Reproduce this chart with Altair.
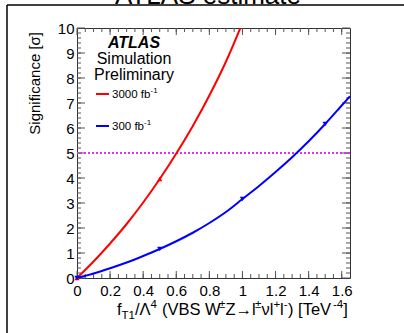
import altair as alt
import pandas as pd

# ---- data ----
red_x = [0.0, 0.1, 0.2, 0.3, 0.4, 0.5, 0.6, 0.7, 0.8, 0.9, 1.0]
red_y = [0.0, 0.66, 1.38, 2.16, 3.02, 3.96, 4.98, 6.08, 7.30, 8.65, 10.2]
blue_x = [0.0, 0.1, 0.2, 0.3, 0.4, 0.5, 0.6, 0.7, 0.8, 0.9, 1.0, 1.1, 1.2, 1.3, 1.4, 1.5, 1.6, 1.65]
blue_y = [0.0, 0.18, 0.39, 0.62, 0.88, 1.16, 1.47, 1.81, 2.20, 2.64, 3.16, 3.68, 4.24, 4.83, 5.47, 6.16, 6.90, 7.27]
red_pts_x = [0.0, 0.5]
red_pts_y = [0.0, 3.96]
blue_pts_x = [0.0, 0.5, 1.0, 1.5]
blue_pts_y = [0.0, 1.16, 3.16, 6.16]
threshold = [5]
x_major = [0, 0.2, 0.4, 0.6, 0.8, 1.0, 1.2, 1.4, 1.6]
y_major = [0, 1, 2, 3, 4, 5, 6, 7, 8, 9, 10]
x_minor = [round(0.05 * i, 2) for i in range(1, 33)]
y_minor = [round(0.2 * i, 1) for i in range(1, 50)]

FONT = "Liberation Sans"
W, H = 273, 250

xscale = alt.Scale(domain=[0, 1.65], nice=False, zero=False)
yscale = alt.Scale(domain=[0, 10], nice=False, zero=False)
xaxis = alt.Axis(values=x_major, format=".2~f", ticks=False, tickSize=0, domain=False, grid=False,
                 labelFontSize=15, labelFont=FONT, labelColor="black", labelPadding=5,
                 labelFlush=False, labelOverlap=False, title=None)
yaxis = alt.Axis(values=y_major, format="d", ticks=False, tickSize=0, domain=False, grid=False,
                 labelFontSize=15, labelFont=FONT, labelColor="black", labelPadding=3,
                 labelFlush=False, labelOverlap=False, title=None)
X = alt.X("x:Q", scale=xscale, axis=xaxis)
Y = alt.Y("y:Q", scale=yscale, axis=yaxis)

one = pd.DataFrame({"a": [1]})

layers = []

# ticks (inside, mirrored on all four sides)
TICK = "#555"
dxM = pd.DataFrame({"x": x_major})
dxm = pd.DataFrame({"x": x_minor})
dyM = pd.DataFrame({"y": y_major})
dym = pd.DataFrame({"y": y_minor})
for df, ln in [(dxM, 7), (dxm, 4)]:
    layers.append(alt.Chart(df).mark_rule(color=TICK, strokeWidth=1).encode(x=X, y=alt.value(H), y2=alt.value(H - ln)))
    layers.append(alt.Chart(df).mark_rule(color=TICK, strokeWidth=1).encode(x=X, y=alt.value(0), y2=alt.value(ln)))
for df, ln in [(dyM, 8), (dym, 4)]:
    layers.append(alt.Chart(df).mark_rule(color=TICK, strokeWidth=1).encode(y=Y, x=alt.value(0), x2=alt.value(ln)))
    layers.append(alt.Chart(df).mark_rule(color=TICK, strokeWidth=1).encode(y=Y, x=alt.value(W), x2=alt.value(W - ln)))

# 5 sigma line
layers.append(alt.Chart(pd.DataFrame({"y": threshold})).mark_rule(
    color="#e030f0", strokeWidth=2, strokeDash=[2, 2]).encode(y=Y))

# curves
layers.append(alt.Chart(pd.DataFrame({"x": red_x, "y": red_y})).mark_line(
    color="#ff0000", strokeWidth=2, interpolate="monotone", clip=True).encode(x=X, y=Y))
layers.append(alt.Chart(pd.DataFrame({"x": blue_x, "y": blue_y})).mark_line(
    color="#0000ff", strokeWidth=2, interpolate="monotone", clip=True).encode(x=X, y=Y))
layers.append(alt.Chart(pd.DataFrame({"x": red_pts_x, "y": red_pts_y})).mark_point(
    shape="triangle-up", filled=True, size=28, color="#ff0000", opacity=1).encode(x=X, y=Y))
layers.append(alt.Chart(pd.DataFrame({"x": blue_pts_x, "y": blue_pts_y})).mark_point(
    shape="triangle-down", filled=True, size=28, color="#0000ff", opacity=1).encode(x=X, y=Y))


def txt(text, x, y, size, align="left", baseline="alphabetic", **kw):
    return alt.Chart(one).mark_text(text=text, align=align, baseline=baseline, fontSize=size,
                                    font=FONT, color="black", **kw).encode(
        x=alt.value(x), y=alt.value(y))


# outer frame of the canvas
layers.append(alt.Chart(one).mark_rule(color="black", strokeWidth=1.5).encode(
    x=alt.value(-70), y=alt.value(-23), y2=alt.value(400)))
layers.append(alt.Chart(one).mark_rule(color="black", strokeWidth=1.5).encode(
    x=alt.value(-70), x2=alt.value(400), y=alt.value(-23)))

# cut-off title at the top
layers.append(txt("ATLAS estimate", 131, -24.5, 26, align="center"))

# ATLAS label block
layers.append(txt("ATLAS", 57, 20, 16, align="center", fontStyle="italic", fontWeight="bold"))
layers.append(txt("Simulation", 57, 36, 16, align="center"))
layers.append(txt("Preliminary", 57, 52, 16, align="center"))

# legend
layers.append(alt.Chart(one).mark_rule(color="#ff0000", strokeWidth=2).encode(
    x=alt.value(19), x2=alt.value(32), y=alt.value(66)))
layers.append(txt("3000 fb", 35, 70, 11.5))
layers.append(txt("-1", 73.5, 65, 8))
layers.append(alt.Chart(one).mark_rule(color="#0000ff", strokeWidth=2).encode(
    x=alt.value(19), x2=alt.value(32), y=alt.value(98)))
layers.append(txt("300 fb", 35, 102, 11.5))
layers.append(txt("-1", 67, 97, 8))

# y title
layers.append(txt("Significance [σ]", -37, 4, 15, align="right", angle=270))

# x title with sub/superscripts
MAIN, SCR = 16.5, 11.5
BASE = 287
segments = [
    ("f", 117, 0, MAIN), ("T1", 121.6, 4, SCR), ("/Λ", 135.0, 0, MAIN), ("4", 150.6, -7, SCR),
    ("(VBS W", 162.0, 0, MAIN), ("±", 219.0, -7, SCR), ("Z→l", 225.5, 0, MAIN),
    ("±", 255.0, -7, SCR), ("νl", 261.5, 0, MAIN), ("+", 273.5, -7, SCR), ("l", 280.0, 0, MAIN),
    ("-", 283.7, -7, SCR), (") [TeV", 288.0, 0, MAIN), ("-4", 333.0, -7, SCR), ("]", 343.3, 0, MAIN),
]
for t, xa, dy, s in segments:
    layers.append(txt(t, xa - 77, BASE + dy, s))

chart = alt.layer(*layers).properties(
    width=W, height=H,
    padding={"left": 77, "top": 28, "right": 54, "bottom": 55},
    autosize=alt.AutoSizeParams(type="none"),
    background="white",
).configure_view(stroke="#333", strokeWidth=1)

chart.save("out.html", embed_options={"renderer": "svg", "actions": False})
